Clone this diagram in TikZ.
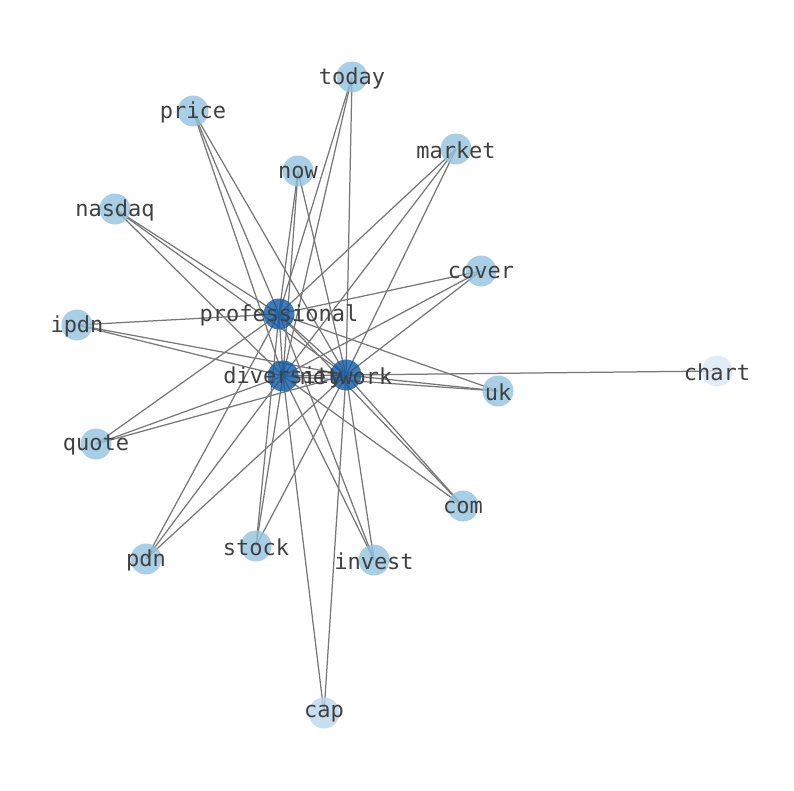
\documentclass[tikz,border=0pt]{standalone}
\usepackage{fontspec}
\newfontfamily\lblfont{DejaVu Sans Mono}
\pgfdeclarelayer{bg}
\pgfsetlayers{bg,main}
\definecolor{hubc}{RGB}{16,90,165}
\definecolor{perc}{RGB}{146,195,222}
\definecolor{capc}{RGB}{186,215,238}
\definecolor{chartc}{RGB}{219,231,245}
\definecolor{edgec}{RGB}{120,120,120}
\definecolor{txtc}{RGB}{64,64,64}
\tikzset{
  vtx/.style={circle,minimum size=31pt,inner sep=0pt,fill opacity=0.8,draw=none},
  hub/.style={vtx,fill=hubc},
  per/.style={vtx,fill=perc},
  lbl/.style={font=\lblfont\fontsize{22}{22}\selectfont,text=txtc,inner sep=0pt,anchor=center},
  edge/.style={draw=edgec,line width=1.25pt}
}
\begin{document}
\begin{tikzpicture}[x=1pt,y=-1pt]
\useasboundingbox (0,0) rectangle (794,790);
% nodes
\node[per] (today) at (352,77) {};
\node[per] (price) at (193,111) {};
\node[per] (market) at (456,149) {};
\node[per] (now) at (298,171) {};
\node[per] (nasdaq) at (115,209) {};
\node[per] (cover) at (481,271) {};
\node[per] (ipdn) at (77,325) {};
\node[hub] (professional) at (279,314) {};
\node[vtx,fill=chartc] (chart) at (717,371) {};
\node[hub] (diversity) at (283,376) {};
\node[hub] (network) at (346,375) {};
\node[per] (uk) at (498,391) {};
\node[per] (quote) at (96,444) {};
\node[per] (com) at (463,506) {};
\node[per] (stock) at (256,546) {};
\node[per] (invest) at (374,560) {};
\node[per] (pdn) at (146,559) {};
\node[vtx,fill=capc] (cap) at (324,713) {};
% edges
\begin{pgfonlayer}{bg}
\foreach \p in {today,price,market,now,nasdaq,cover,ipdn,uk,quote,com,stock,invest,pdn}{
  \draw[edge] (\p.center) -- (professional.center);
  \draw[edge] (\p.center) -- (diversity.center);
  \draw[edge] (\p.center) -- (network.center);
}
\draw[edge] (professional.center) -- (diversity.center);
\draw[edge] (professional.center) -- (network.center);
\draw[edge] (diversity.center) -- (network.center);
\draw[edge] (cap.center) -- (diversity.center);
\draw[edge] (cap.center) -- (network.center);
\draw[edge] (chart.center) -- (network.center);
\end{pgfonlayer}
% labels
\foreach \p in {today,price,market,now,nasdaq,cover,ipdn,professional,chart,diversity,network,uk,quote,com,stock,invest,pdn,cap}{
  \node[lbl] (t-\p) at ([yshift=-1pt]\p.center) {\p};
}
\end{tikzpicture}
\end{document}
